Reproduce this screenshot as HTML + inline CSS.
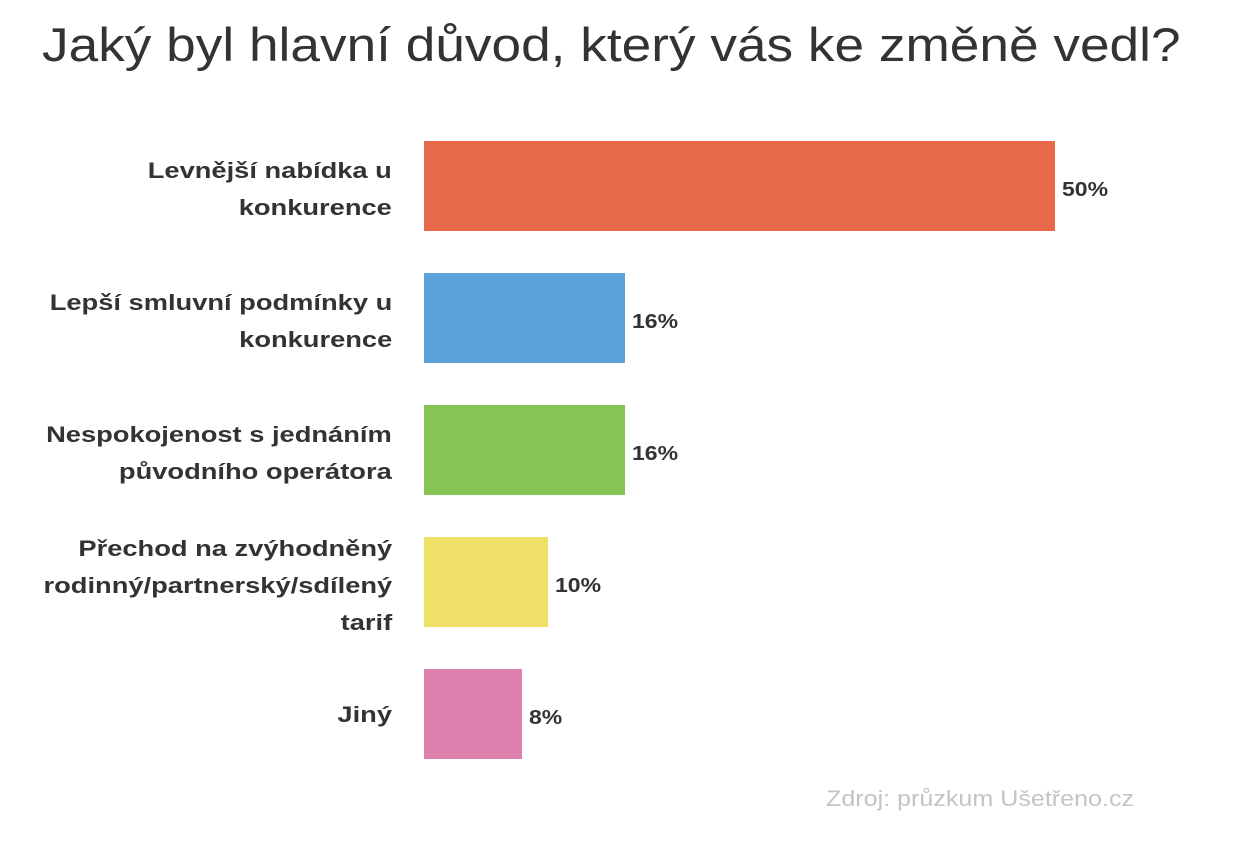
<!DOCTYPE html>
<html><head><meta charset="utf-8"><style>
body{margin:0;width:1240px;height:864px;background:#fff;font-family:"Liberation Sans",sans-serif;position:relative;overflow:hidden}
.t{position:absolute;left:42px;top:17px;font-size:47px;color:#333;white-space:nowrap;transform:scaleX(1.132);transform-origin:left top}
.bar{position:absolute;left:424px;height:90px}
.lab{position:absolute;right:848px;text-align:right;font-weight:bold;font-size:22px;line-height:37px;color:#333;white-space:nowrap;transform:scaleX(1.24);transform-origin:right center}
.v{position:absolute;font-weight:bold;font-size:20px;color:#333;transform:scaleX(1.15);transform-origin:left center}
.src{position:absolute;left:826px;top:786px;font-size:22px;color:#c4c4c4;white-space:nowrap;transform:scaleX(1.14);transform-origin:left top}
</style></head><body>
<div class="t">Jaký byl hlavní důvod, který vás ke změně vedl?</div>

<div class="bar" style="top:141px;width:631px;background:#E8694A"></div>
<div class="bar" style="top:273px;width:201px;background:#5BA2D9"></div>
<div class="bar" style="top:405px;width:201px;background:#86C553"></div>
<div class="bar" style="top:537px;width:124px;background:#EFE068"></div>
<div class="bar" style="top:669px;width:98px;background:#DD80AE"></div>

<div class="lab" style="top:152px">Levnější nabídka u<br>konkurence</div>
<div class="lab" style="top:284px">Lepší smluvní podmínky u<br>konkurence</div>
<div class="lab" style="top:416px">Nespokojenost s jednáním<br>původního operátora</div>
<div class="lab" style="top:530px">Přechod na zvýhodněný<br>rodinný/partnerský/sdílený<br>tarif</div>
<div class="lab" style="top:696px">Jiný</div>

<div class="v" style="left:1062px;top:179px">50%</div>
<div class="v" style="left:632px;top:311px">16%</div>
<div class="v" style="left:632px;top:443px">16%</div>
<div class="v" style="left:555px;top:575px">10%</div>
<div class="v" style="left:529px;top:707px">8%</div>

<div class="src">Zdroj: průzkum Ušetřeno.cz</div>
</body></html>
